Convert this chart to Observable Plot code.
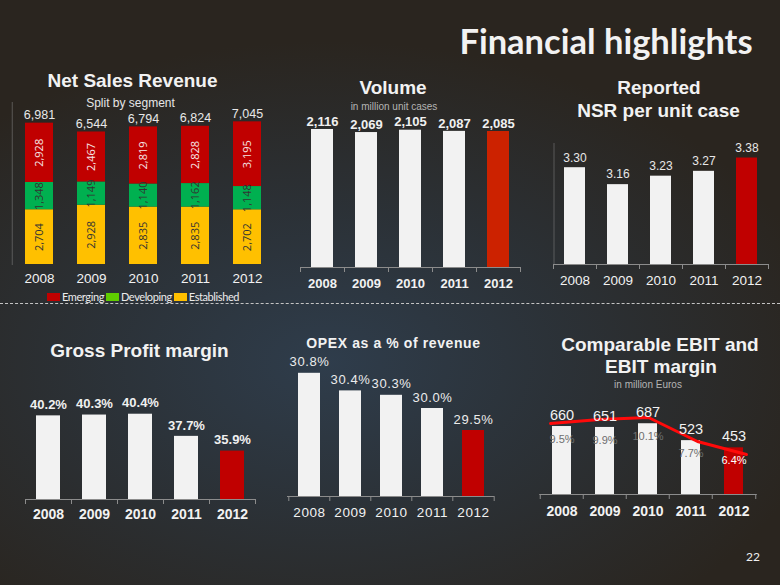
<!DOCTYPE html>
<html><head><meta charset="utf-8">
<script src="https://cdn.jsdelivr.net/npm/d3@7"></script>
<script src="https://cdn.jsdelivr.net/npm/@observablehq/plot@0.6"></script>
<style>
html,body{margin:0;padding:0;}
body{width:780px;height:585px;overflow:hidden;background:#29251f;}
#root{position:relative;width:780px;height:585px;overflow:hidden;
 background:
  radial-gradient(ellipse 65% 55% at 42% 62%, rgba(47,62,78,0.95) 0%, rgba(44,55,66,0.7) 45%, rgba(42,37,31,0) 100%),
  #2a251f;}
.t{position:absolute;white-space:nowrap;line-height:1;color:#f2f2f2;font-family:'Liberation Sans',Arial,sans-serif;transform:translateX(-50%);}
svg{position:absolute;left:0;top:0;}
</style></head><body><div id="root"></div>
<script>
// ---------- data ----------
const years = ["2008", "2009", "2010", "2011", "2012"];
const segments = ["Established", "Developing", "Emerging"];
const nsrEstablished = [2704, 2928, 2835, 2835, 2702];
const nsrDeveloping = [1348, 1149, 1140, 1162, 1148];
const nsrEmerging = [2928, 2467, 2819, 2828, 3195];
const nsrTotal = [6981, 6544, 6794, 6824, 7045];
const volume = [2116, 2069, 2105, 2087, 2085];
const nsrPerCase = [3.30, 3.16, 3.23, 3.27, 3.38];
const grossMargin = [40.2, 40.3, 40.4, 37.7, 35.9];
const opexPct = [30.8, 30.4, 30.3, 30.0, 29.5];
const ebit = [660, 651, 687, 523, 453];
const ebitMargin = [9.5, 9.9, 10.1, 7.7, 6.4];

// ---------- helpers ----------
const root = document.getElementById("root");
const WHITE = "#f2f2f2", RED = "#c00000", AXIS = "#8c8c8c";
const fmtInt = d3.format(",");
const fmtPct = v => v.toFixed(1) + "%";
const segColors = ["#ffc000", "#00b050", "#c00000"];
const legendColors = ["#c00000", "#5fcc00", "#ffc000"];

function label(text, cx, baseline, size, weight, color, family, extra) {
  const fam = family || "'Liberation Sans',Arial,sans-serif";
  const asc = family && family.includes("Lato") ? 0.887 : 0.8465;
  const d = document.createElement("div");
  d.className = "t";
  d.textContent = text;
  Object.assign(d.style, {left: cx + "px", top: (baseline - asc * size) + "px", fontSize: size + "px",
    fontWeight: weight || "normal", color: color || "#f2f2f2", fontFamily: fam}, extra || {});
  root.append(d);
}
function add(svg) { root.append(svg); }
function base(opts, style) {
  return Plot.plot({
    width: 780, height: 585,
    style: Object.assign({background: "transparent", color: "#f2f2f2", overflow: "visible",
      fontFamily: "'Liberation Sans',Arial,sans-serif"}, style || {}),
    ...opts
  });
}
function boundaryTicks(step) {
  return [
    Plot.axisX({tickSize: 5, tickFormat: () => "", dx: -step / 2, stroke: AXIS}),
    Plot.axisX({ticks: [years[years.length - 1]], tickSize: 5, tickFormat: () => "", dx: step / 2, stroke: AXIS})
  ];
}
const barFill = (d, i) => i === years.length - 1 ? RED : WHITE;

// ---------- background text ----------
label("Financial highlights", 606, 55, 34.5, "bold", "#f2f2f2", "Lato,sans-serif");
label("22", 753, 562, 12, "normal", "#f0f0f0", "Lato,sans-serif");
const dash = document.createElement("div");
Object.assign(dash.style, {position: "absolute", left: "0", top: "303px", width: "780px", borderTop: "1px dashed #c4c4c4"});
root.append(dash);

// ---------- Panel 1: Net Sales Revenue ----------
label("Net Sales Revenue", 132.5, 87, 19, "bold");
label("Split by segment", 130.5, 107, 12, "normal", "#e6e6e6");
const segRows = years.flatMap((y, i) => [
  {year: y, seg: "Established", v: nsrEstablished[i]},
  {year: y, seg: "Developing", v: nsrDeveloping[i]},
  {year: y, seg: "Emerging", v: nsrEmerging[i]}
]);
add(base({
  marginLeft: 11.75, marginRight: 505.75, marginTop: 102, marginBottom: 321,
  x: {type: "band", domain: years, paddingInner: 0.467, paddingOuter: 0.2335, label: null},
  y: {domain: [0, 8000], axis: null},
  color: {domain: segments, range: segColors},
  marks: [
    Plot.frame({anchor: "left", stroke: "#8a8a8a", strokeOpacity: 0.5}),
    Plot.barY(segRows, {x: "year", y: "v", fill: "seg"}),
    Plot.text(segRows, Plot.stackY({x: "year", y: "v", z: "seg", text: d => fmtInt(d.v), rotate: -90,
      fill: d => d.seg === "Emerging" ? "#f6e6e6" : "#333333", fontSize: 11, fontFamily: "'Open Sans',sans-serif"})),
    Plot.text(years, {x: d => d, y: (d, i) => nsrTotal[i], text: (d, i) => fmtInt(nsrTotal[i]), dy: -8,
      fill: "#e8e8e8", fontSize: 12.5}),
    Plot.axisX({tickSize: 0, tickPadding: 9, fontSize: 13.5})
  ]
}));
// legend
const leg = document.createElement("div");
Object.assign(leg.style, {position: "absolute", left: "47px", top: "290px", display: "flex", alignItems: "center",
  fontFamily: "Lato,sans-serif", fontSize: "11px", letterSpacing: "-0.4px", color: "#ececec", lineHeight: "14px"});
["Emerging", "Developing", "Established"].forEach((s, i) => {
  const sq = document.createElement("span");
  Object.assign(sq.style, {display: "inline-block", width: "13px", height: "8px", background: legendColors[i], marginRight: "2px"});
  const tx = document.createElement("span");
  tx.textContent = s;
  tx.style.marginRight = "2px";
  leg.append(sq, tx);
});
root.append(leg);

// ---------- Panel 2: Volume ----------
label("Volume", 393, 94, 19, "bold");
label("in million unit cases", 394, 110, 10, "normal", "#b4b4b4");
add(base({
  marginLeft: 300, marginRight: 260, marginTop: 123.5, marginBottom: 318,
  x: {type: "band", domain: years, paddingInner: 0.5, paddingOuter: 0.25, label: null},
  y: {domain: [0, 2200], axis: null},
  marks: [
    Plot.barY(years, {x: d => d, y: (d, i) => volume[i], fill: (d, i) => i === 4 ? "#cc2200" : WHITE}),
    Plot.ruleY([0], {stroke: AXIS}),
    ...boundaryTicks(44),
    Plot.text(years, {x: d => d, y: (d, i) => volume[i], text: (d, i) => fmtInt(volume[i]), dy: -8,
      fontWeight: "bold", fontSize: 13, fill: "#f0f0f0"}),
    Plot.axisX({tickSize: 0, tickPadding: 11, fontSize: 13, fontWeight: "bold"})
  ]
}));

// ---------- Panel 3: NSR per unit case ----------
label("Reported", 659, 94, 19, "bold");
label("NSR per unit case", 658.5, 117, 19, "bold");
const nsrMin = 2.5;
add(base({
  marginLeft: 553.5, marginRight: 11.5, marginTop: 143, marginBottom: 321,
  x: {type: "band", domain: years, paddingInner: 0.51, paddingOuter: 0.255, label: null},
  y: {domain: [nsrMin, 3.5], axis: null},
  marks: [
    Plot.frame({anchor: "left", stroke: "#8a8a8a", strokeOpacity: 0.5}),
    Plot.barY(years, {x: d => d, y1: nsrMin, y2: (d, i) => nsrPerCase[i], fill: barFill}),
    Plot.ruleY([nsrMin], {stroke: AXIS}),
    ...boundaryTicks(43),
    Plot.text(years, {x: d => d, y: (d, i) => nsrPerCase[i], text: (d, i) => nsrPerCase[i].toFixed(2), dy: -10,
      fontSize: 12, fill: "#e8e8e8"}),
    Plot.axisX({tickSize: 0, tickPadding: 11, fontSize: 13.5})
  ]
}));

// ---------- Panel 4: Gross Profit margin ----------
label("Gross Profit margin", 139.5, 357, 19, "bold");
const gpMin = 30;
add(base({
  marginLeft: 25, marginRight: 525, marginTop: 408.8, marginBottom: 86,
  x: {type: "band", domain: years, paddingInner: 0.478, paddingOuter: 0.239, label: null},
  y: {domain: [gpMin, 41], axis: null},
  marks: [
    Plot.barY(years, {x: d => d, y1: gpMin, y2: (d, i) => grossMargin[i], fill: barFill}),
    Plot.ruleY([gpMin], {stroke: AXIS}),
    ...boundaryTicks(46),
    Plot.text(years, {x: d => d, y: (d, i) => grossMargin[i], text: (d, i) => fmtPct(grossMargin[i]), dy: -11,
      fontSize: 13, fontWeight: "bold", fill: "#f0f0f0"}),
    Plot.axisX({tickSize: 0, tickPadding: 10, fontSize: 14, fontWeight: "bold"})
  ]
}));

// ---------- Panel 5: OPEX ----------
label("OPEX as a % of revenue", 393.5, 348, 14, "bold", "#f2f2f2", null, {letterSpacing: "0.6px"});
const opexMin = 28;
add(base({
  marginLeft: 287, marginRight: 286, marginTop: 364, marginBottom: 89,
  x: {type: "band", domain: years, paddingInner: 0.47, paddingOuter: 0.235, label: null},
  y: {domain: [opexMin, 31], axis: null},
  marks: [
    Plot.barY(years, {x: d => d, y1: opexMin, y2: (d, i) => opexPct[i], fill: barFill}),
    Plot.ruleY([opexMin], {stroke: AXIS}),
    ...boundaryTicks(41.4),
    Plot.text(years, {x: d => d, y: (d, i) => opexPct[i], text: (d, i) => fmtPct(opexPct[i]), dy: -11,
      fontSize: 13, fill: "#ececec"}),
    Plot.axisX({tickSize: 0, tickPadding: 11, fontSize: 13.5})
  ]
}, {letterSpacing: "0.6px"}));

// ---------- Panel 6: EBIT ----------
label("Comparable EBIT and", 660, 351, 19, "bold");
label("EBIT margin", 661, 373, 19, "bold");
label("in million Euros", 648, 388, 10, "normal", "#b4b4b4");
add(base({
  marginLeft: 539.25, marginRight: 23.25, marginTop: 411.6, marginBottom: 91,
  x: {type: "band", domain: years, paddingInner: 0.552, paddingOuter: 0.276, label: null},
  y: {domain: [0, 800], axis: null},
  marks: [
    Plot.barY(years, {x: d => d, y: (d, i) => ebit[i], fill: barFill}),
    Plot.ruleY([0], {stroke: AXIS}),
    ...boundaryTicks(43.5),
    Plot.text(years, {x: d => d, y: (d, i) => ebit[i], text: (d, i) => ebitMargin[i].toFixed(1) + "%", dy: 13,
      fontSize: 11, fill: (d, i) => i === 4 ? "#ffffff" : "#6e6e6e"}),
    Plot.axisX({tickSize: 0, tickPadding: 12, fontSize: 14, fontWeight: "bold"})
  ]
}));
// margin line (secondary scale)
add(base({
  marginLeft: 549, marginRight: 34, marginTop: 398, marginBottom: 67,
  x: {type: "point", domain: years, padding: 0, axis: null},
  y: {domain: [0, 12], axis: null},
  marks: [
    Plot.line(years, {x: d => d, y: (d, i) => ebitMargin[i], stroke: "#ff0a0a", strokeWidth: 3})
  ]
}));
// EBIT value labels on top of line
add(base({
  marginLeft: 539.25, marginRight: 23.25, marginTop: 411.6, marginBottom: 91,
  x: {type: "band", domain: years, paddingInner: 0.552, paddingOuter: 0.276, axis: null},
  y: {domain: [0, 800], axis: null},
  marks: [
    Plot.text(years, {x: d => d, y: (d, i) => ebit[i], text: (d, i) => String(ebit[i]), dy: -11,
      fontSize: 14.5, fill: "#f2f2f2"})
  ]
}));
</script></body></html>
